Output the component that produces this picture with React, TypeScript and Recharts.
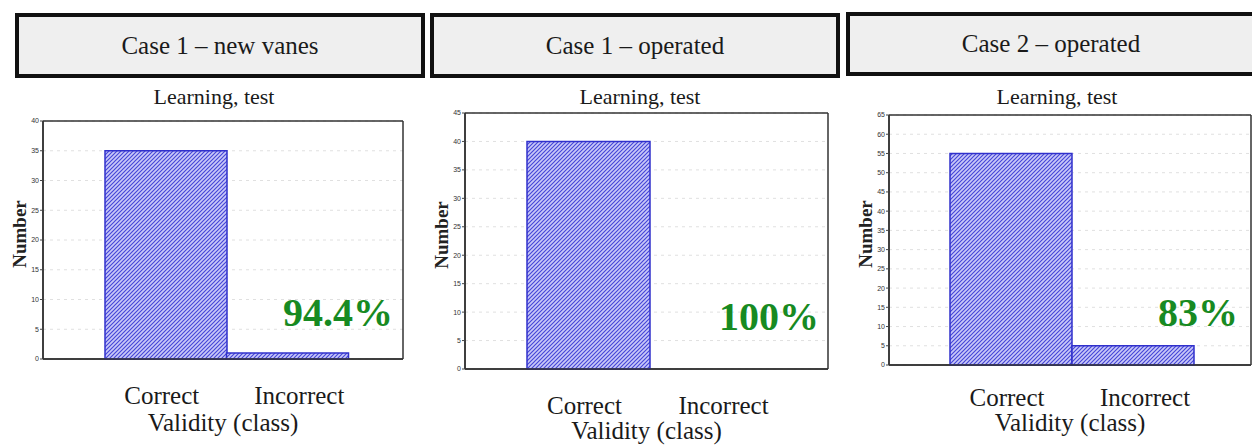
import React from 'react';
import { BarChart, Bar, XAxis, YAxis, CartesianGrid, Label } from 'recharts';

// ---------- data ----------
const categories = ['Correct', 'Incorrect'];
const case1NewVanesValues = [35, 1];
const case1OperatedValues = [40, 0];
const case2OperatedValues = [55, 5];
const ticksCase1New = [0, 5, 10, 15, 20, 25, 30, 35, 40];
const ticksCase1Op = [0, 5, 10, 15, 20, 25, 30, 35, 40, 45];
const ticksCase2Op = [0, 5, 10, 15, 20, 25, 30, 35, 40, 45, 50, 55, 60, 65];
const headerTitles = ['Case 1 \u2013 new vanes', 'Case 1 \u2013 operated', 'Case 2 \u2013 operated'];
const subTitle = 'Learning, test';
const percentLabels = ['94.4%', '100%', '83%'];
const xAxisTitle = 'Validity (class)';
const yAxisTitle = 'Number';

const SERIF = '"Liberation Serif", "Times New Roman", serif';
const SANS = '"Liberation Sans", Arial, sans-serif';

const makeRows = (vals: number[]) => categories.map((c, i) => ({ category: c, value: vals[i] }));

// ---------- layout (not data) ----------
const panels = [
  {
    values: case1NewVanesValues, ticks: ticksCase1New,
    box: { left: 15, top: 13, width: 410, height: 65 },
    chart: { left: 0, top: 100, width: 420, height: 346 },
    margin: { top: 21, right: 17, left: 13, bottom: 0 }, xAxisH: 87,
    pad: { left: 62, right: 55 }, tickDy: 36, titleDy: 63, numX: 6,
    sub: { x: 214, y: 104 }, pct: { x: 338, y: 326 },
  },
  {
    values: case1OperatedValues, ticks: ticksCase1Op,
    box: { left: 430, top: 13, width: 410, height: 65 },
    chart: { left: 424, top: 100, width: 420, height: 346 },
    margin: { top: 13, right: 16, left: 11, bottom: 0 }, xAxisH: 77,
    pad: { left: 62, right: 55 }, tickDy: 36, titleDy: 61, numX: 6,
    sub: { x: 640, y: 104 }, pct: { x: 769, y: 330 },
  },
  {
    values: case2OperatedValues, ticks: ticksCase2Op,
    box: { left: 846, top: 12, width: 410, height: 64 },
    chart: { left: 846, top: 100, width: 406, height: 346 },
    margin: { top: 15, right: 1, left: 13, bottom: 0 }, xAxisH: 81,
    pad: { left: 61, right: 57 }, tickDy: 32, titleDy: 57, numX: 6,
    sub: { x: 1057, y: 104 }, pct: { x: 1198, y: 326 },
  },
];

const CatTick = (props: any) => {
  const { x, y, payload, dy } = props;
  const shift = payload.value === 'Incorrect' ? 12 : -4;
  return (
    <text x={x + shift} y={y + dy} textAnchor="middle" dominantBaseline="central"
      fontFamily={SERIF} fontSize={25} fill="#1a1a1a">{payload.value}</text>
  );
};

const frameH = (gp: any) => {
  const o = gp.offset;
  return [o.top, o.top + o.height];
};
const frameV = (gp: any) => {
  const o = gp.offset;
  return [o.left, o.left + o.width];
};

const Panel = ({ p, idx }: { p: any; idx: number }) => {
  const data = makeRows(p.values);
  const pid = `hatch${idx}`;
  const max = p.ticks[p.ticks.length - 1];
  return (
    <div style={{ position: 'absolute', left: p.chart.left, top: p.chart.top }}>
      <BarChart width={p.chart.width} height={p.chart.height} data={data}
        margin={p.margin} barCategoryGap={0} barGap={0}>
        <defs>
          <pattern id={pid} width={4} height={4} patternUnits="userSpaceOnUse">
            <rect width={4} height={4} fill="#c9c9f8" />
            <path d="M-1,1 l2,-2 M0,4 l4,-4 M3,5 l2,-2" stroke="#4545d8" strokeWidth={1.15} />
          </pattern>
        </defs>
        <CartesianGrid vertical={false} stroke="#e0e0e0" strokeDasharray="3 4" />
        <CartesianGrid stroke="#333" strokeWidth={1.5} fill="none"
          horizontalCoordinatesGenerator={frameH} verticalCoordinatesGenerator={frameV} />
        <XAxis dataKey="category" type="category" padding={p.pad} height={p.xAxisH}
          tickLine={false} tickSize={0} tickMargin={0} interval={0}
          axisLine={{ stroke: '#333', strokeWidth: 1.5 }}
          tick={<CatTick dy={p.tickDy} />}>
          <Label content={(lp: any) => {
            const vb = lp.viewBox;
            return (
              <text x={vb.x + vb.width / 2} y={vb.y + p.titleDy} textAnchor="middle"
                dominantBaseline="central" fontFamily={SERIF} fontSize={25} fill="#1a1a1a">{xAxisTitle}</text>
            );
          }} />
        </XAxis>
        <YAxis domain={[0, max]} ticks={p.ticks} interval={0} width={30} tickSize={3} tickMargin={1}
          axisLine={{ stroke: '#333', strokeWidth: 1.5 }} tickLine={{ stroke: '#444' }}
          tick={{ fontSize: 7, fill: '#333', fontFamily: SANS }}>
          <Label content={(lp: any) => {
            const vb = lp.viewBox;
            const cx = vb.x + p.numX;
            const cy = vb.y + vb.height / 2 - 6;
            return (
              <text x={cx} y={cy} transform={`rotate(-90, ${cx}, ${cy})`} textAnchor="middle"
                dominantBaseline="central" fontFamily={SERIF} fontSize={19} fontWeight="bold" fill="#222">{yAxisTitle}</text>
            );
          }} />
        </YAxis>
        <Bar dataKey="value" fill={`url(#${pid})`} stroke="#3030cc" strokeWidth={1.5}
          isAnimationActive={false} />
      </BarChart>
    </div>
  );
};

export default function App() {
  return (
    <div style={{ position: 'absolute', left: 0, top: 0, width: 1252, height: 446, background: '#fff', overflow: 'hidden' }}>
      {panels.map((p, i) => (
        <div key={`box${i}`} style={{
          position: 'absolute', left: p.box.left, top: p.box.top, width: p.box.width, height: p.box.height,
          boxSizing: 'border-box', border: '4px solid #111', background: '#efefef',
          display: 'flex', alignItems: 'center', justifyContent: 'center',
          fontFamily: SERIF, fontSize: 25, color: '#1a1a1a',
        }}>{headerTitles[i]}</div>
      ))}
      {panels.map((p, i) => <Panel key={`panel${i}`} p={p} idx={i} />)}
      <svg width={1252} height={446} style={{ position: 'absolute', left: 0, top: 0, pointerEvents: 'none' }}>
        {panels.map((p, i) => (
          <text key={`sub${i}`} x={p.sub.x} y={p.sub.y} textAnchor="middle" fontFamily={SERIF}
            fontSize={22} fill="#1a1a1a">{subTitle}</text>
        ))}
        {panels.map((p, i) => (
          <text key={`pct${i}`} x={p.pct.x} y={p.pct.y} textAnchor="middle" fontFamily={SERIF}
            fontSize={40} fontWeight="bold" fill="#178a22">{percentLabels[i]}</text>
        ))}
      </svg>
    </div>
  );
}
